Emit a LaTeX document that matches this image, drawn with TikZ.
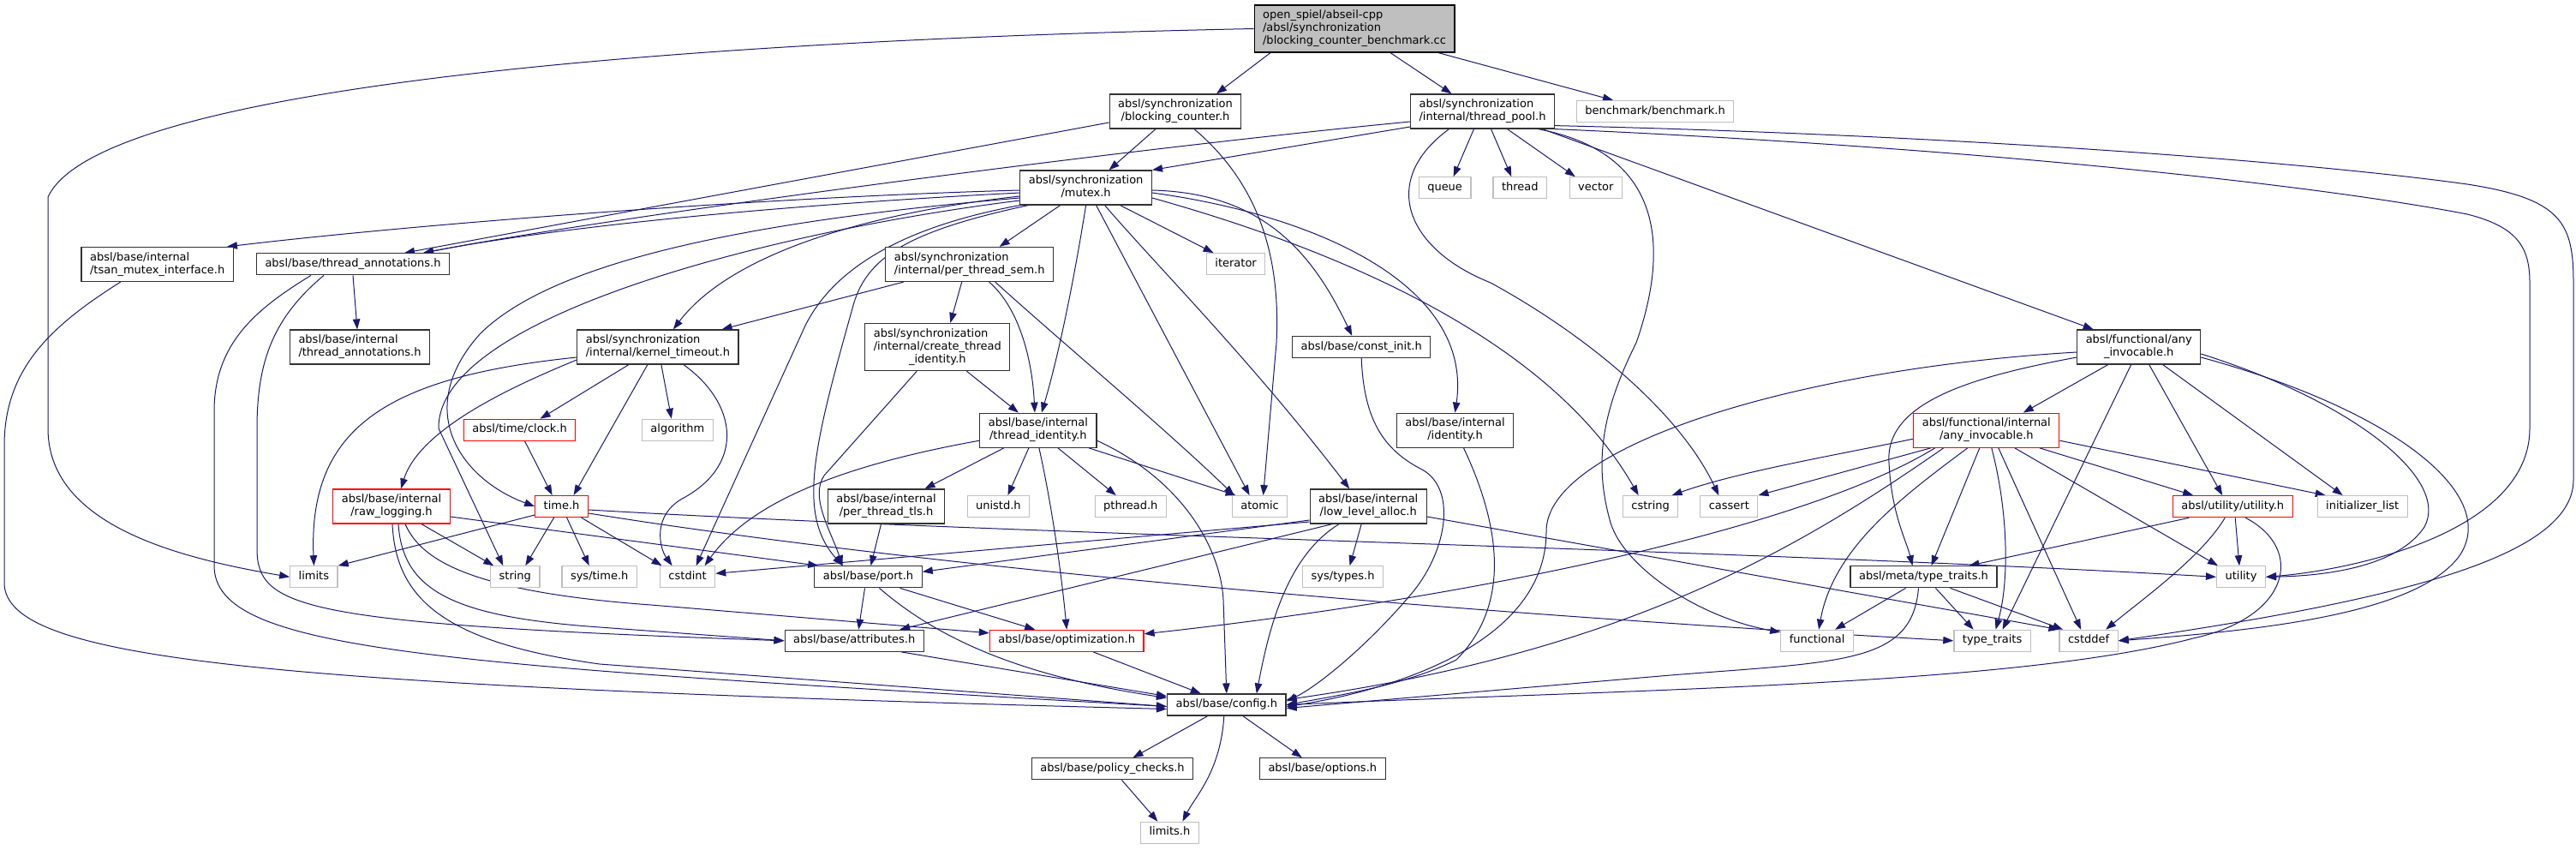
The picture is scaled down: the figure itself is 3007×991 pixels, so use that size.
\documentclass[tikz,border=0pt]{standalone}
\usepackage{fontspec}
\setmainfont{DejaVu Sans}
\usetikzlibrary{arrows.meta,backgrounds}
\definecolor{navy}{RGB}{25,25,112}
\definecolor{frame}{RGB}{50,50,50}
\definecolor{lite}{RGB}{191,191,191}
\definecolor{warn}{RGB}{255,0,0}
\tikzset{
  >={Triangle[length=12pt,width=8.5pt]},
  hdr/.style={draw=#1,fill=white,line width=1.2pt,inner xsep=10pt,inner ysep=5pt,
    font=\fontsize{13}{15}\selectfont,execute at begin node=\strut},
  hdr/.default=frame,
  syshdr/.style={hdr=lite},
  redhdr/.style={hdr=warn},
  roothdr/.style={hdr=black,fill=lite},
  inc/.style={->,draw=navy,line width=1pt},
}
% first lines flush left, last line centred
\newcommand{\brk}[2]{\begin{tabular}{@{}l@{}}#1\\\multicolumn{1}{@{}c@{}}{#2}\end{tabular}}

\begin{document}
\begin{tikzpicture}[x=1pt,y=-1pt]
  \useasboundingbox (0,0) rectangle (3007,991);
  % project headers
  \node[roothdr] (main) at (1581,33.5) {\brk{open\_spiel/abseil-cpp\\/absl/synchronization}{/blocking\_counter\_benchmark.cc}};
  \node[hdr] (bc) at (1372,130) {\brk{absl/synchronization}{/blocking\_counter.h}};
  \node[hdr] (tp) at (1730.5,130) {\brk{absl/synchronization}{/internal/thread\_pool.h}};
  \node[hdr] (mutex) at (1267.6,219) {\brk{absl/synchronization}{/mutex.h}};
  \node[hdr] (tsan) at (183.7,308.5) {\brk{absl/base/internal}{/tsan\_mutex\_interface.h}};
  \node[hdr] (ta) at (412,308.3) {absl/base/thread\_annotations.h};
  \node[hdr] (pts) at (1131.7,308.5) {\brk{absl/synchronization}{/internal/per\_thread\_sem.h}};
  \node[hdr] (ita) at (420,405) {\brk{absl/base/internal}{/thread\_annotations.h}};
  \node[hdr] (kt) at (767.9,405) {\brk{absl/synchronization}{/internal/kernel\_timeout.h}};
  \node[hdr] (cti) at (1094.3,405) {\brk{absl/synchronization\\/internal/create\_thread}{\_identity.h}};
  \node[hdr] (ci) at (1589.2,405) {absl/base/const\_init.h};
  \node[hdr] (fai) at (2496.7,405) {\brk{absl/functional/any}{\_invocable.h}};
  \node[redhdr] (clock) at (606.6,501.8) {absl/time/clock.h};
  \node[hdr] (tid) at (1211.9,502.2) {\brk{absl/base/internal}{/thread\_identity.h}};
  \node[hdr] (ident) at (1698.5,502.2) {\brk{absl/base/internal}{/identity.h}};
  \node[redhdr] (fiai) at (2318.8,502.2) {\brk{absl/functional/internal}{/any\_invocable.h}};
  \node[redhdr] (rawlog) at (457,591) {\brk{absl/base/internal}{/raw\_logging.h}};
  \node[redhdr] (timeh) at (655.6,591) {time.h};
  \node[hdr] (ptls) at (1034.5,591) {\brk{absl/base/internal}{/per\_thread\_tls.h}};
  \node[hdr] (lla) at (1597.2,591) {\brk{absl/base/internal}{/low\_level\_alloc.h}};
  \node[redhdr] (uu) at (2606.2,591.2) {absl/utility/utility.h};
  \node[hdr] (port) at (1013.5,673.3) {absl/base/port.h};
  \node[hdr] (mtt) at (2245.5,673.3) {absl/meta/type\_traits.h};
  \node[hdr] (attr) at (997.2,747.8) {absl/base/attributes.h};
  \node[redhdr] (opt) at (1245.2,747.8) {absl/base/optimization.h};
  \node[hdr] (config) at (1431.8,822.5) {absl/base/config.h};
  \node[hdr] (policy) at (1298.5,897.3) {absl/base/policy\_checks.h};
  \node[hdr] (options) at (1543.8,897.3) {absl/base/options.h};
  % system headers
  \foreach \n/\x/\y/\t in {bm/1932/130/{benchmark/benchmark.h},queue/1686.6/219.3/queue,
      thread/1774.3/219.3/thread,vector/1862.8/219.3/vector,iter/1442.6/308.2/iterator,
      algo/790.8/501.8/algorithm,unistd/1165.4/591.2/unistd.h,pthread/1319.8/591.2/pthread.h,
      atomic/1470.6/591.2/atomic,cstring/1926.6/591.2/cstring,cassert/2018.3/591.2/cassert,
      initl/2757.7/591.2/initializer\_list,limits/366.4/673.3/limits,string/601.3/673.3/string,
      systime/699.7/673.3/{sys/time.h},cstdint/802.6/673.3/cstdint,systypes/1567.6/673.3/{sys/types.h},
      utility/2616/673.3/utility,functional/2121.1/747.8/functional,typetraits/2325.6/747.8/type\_traits,
      cstddef/2438.1/747.8/cstddef,limitsh/1365.4/971.8/limits.h}
    \node[syshdr] (\n) at (\x,\y) {\t};

  \begin{scope}[on background layer]
    % benchmark file
    \draw[inc] (main.west) .. controls (900,45) and (120,90) .. (56,230) -- (56,500) .. controls (56,610) and (200,650) .. (limits.west);
    \draw[inc] ([xshift=-98pt]main.south) -- ([xshift=48pt]bc.north);
    \draw[inc] ([xshift=42pt]main.south) -- ([xshift=-36pt]tp.north);
    \draw[inc] ([xshift=98pt]main.south) -- ([xshift=-49pt]bm.north);
    % blocking_counter.h
    \draw[inc] ([xshift=-23pt]bc.south) -- ([xshift=27pt]mutex.north);
    \draw[inc] ([yshift=-13pt]bc.west) -- ([xshift=60pt]ta.north);
    \draw[inc] ([xshift=22pt]bc.south) .. controls (1470,215) and (1495,300) .. (1490,400) -- ([xshift=4pt]atomic.north);
    % thread_pool.h
    \draw[inc] ([yshift=-18pt]tp.west) -- (mutex.north east);
    \draw[inc] ([yshift=-12pt]tp.west) .. controls (1300,175) and (700,255) .. ([xshift=82pt]ta.north);
    \draw[inc] ([xshift=-10pt]tp.south) -- ([xshift=10pt]queue.north);
    \draw[inc] ([xshift=10pt]tp.south) -- ([xshift=-10pt]thread.north);
    \draw[inc] ([xshift=29pt]tp.south) -- ([xshift=-24pt]vector.north);
    \draw[inc] ([xshift=-39pt]tp.south) .. controls (1610,210) and (1640,290) .. (1740,330) .. controls (1850,390) and (1960,480) .. ([xshift=-12pt]cassert.north);
    \draw[inc] ([xshift=65pt]tp.south) .. controls (1950,180) and (1945,300) .. (1910,400) .. controls (1870,480) and (1860,540) .. (1880,610) .. controls (1895,660) and (1980,720) .. ([yshift=10pt]functional.west);
    \draw[inc] ([xshift=70pt]tp.south) -- ([xshift=-53pt]fai.north);
    \draw[inc] ([yshift=4pt]tp.south east) .. controls (2300,158) and (2700,190) .. (2880,215) .. controls (2990,232) and (3004,260) .. (3004,330) -- (3004,560) .. controls (3004,650) and (2800,700) .. (cstddef.east);
    \draw[inc] (tp.south east) .. controls (2300,172) and (2700,215) .. (2880,250) .. controls (2940,265) and (2953,290) .. (2953,330) -- (2953,500) .. controls (2953,620) and (2750,665) .. (utility.east);
    % mutex.h
    \draw[inc] ([yshift=-3pt]mutex.west) .. controls (900,230) and (500,260) .. ([xshift=-8pt]tsan.north east);
    \draw[inc] ([yshift=-6pt]mutex.west) .. controls (900,240) and (650,265) .. ([xshift=82pt]ta.north);
    \draw[inc] ([yshift=-10pt]mutex.west) .. controls (1000,250) and (850,300) .. ([xshift=18pt]kt.north);
    \draw[inc] ([yshift=-12pt]mutex.west) .. controls (850,260) and (640,310) .. (560,390) .. controls (480,480) and (540,560) .. (timeh.west);
    \draw[inc] ([yshift=-15pt]mutex.west) .. controls (900,270) and (510,370) .. (512,500) -- ([xshift=-14pt]string.north);
    \draw[inc] (mutex.south west) .. controls (1080,260) and (980,300) .. (940,380) -- ([xshift=10pt]cstdint.north);
    \draw[inc] ([xshift=10pt]mutex.south west) .. controls (1060,270) and (1010,300) .. (995,360) .. controls (950,520) and (930,600) .. ([xshift=-30pt]port.north);
    \draw[inc] ([xshift=-30pt]mutex.south) -- ([xshift=35pt]pts.north);
    \draw[inc] (mutex.south) .. controls (1258,300) and (1240,400) .. ([xshift=4pt]tid.north);
    \draw[inc] ([xshift=12pt]mutex.south) -- ([xshift=-12pt]atomic.north);
    \draw[inc] ([xshift=22pt]mutex.south) .. controls (1350,310) and (1460,420) .. ([xshift=-22pt]lla.north);
    \draw[inc] ([xshift=40pt]mutex.south) -- ([xshift=-26pt]iter.north);
    \draw[inc] ([yshift=-3pt]mutex.east) .. controls (1470,225) and (1530,290) .. ([xshift=-11pt]ci.north);
    \draw[inc] ([yshift=-6pt]mutex.east) .. controls (1530,250) and (1720,330) .. (ident.north);
    \draw[inc] ([yshift=-12pt]mutex.east) .. controls (1520,280) and (1800,380) .. ([xshift=-14pt]cstring.north);
    % per_thread_sem.h
    \draw[inc] ([xshift=-77pt]pts.south) -- ([xshift=-20pt]kt.north east);
    \draw[inc] ([xshift=-9pt]pts.south) -- ([xshift=15pt]cti.north);
    \draw[inc] ([xshift=23pt]pts.south) .. controls (1190,360) and (1205,420) .. ([xshift=-4pt]tid.north);
    \draw[inc] ([xshift=30pt]pts.south) .. controls (1240,400) and (1360,500) .. ([xshift=-30pt]atomic.north);
    % thread_annotations.h, tsan_mutex_interface.h
    \draw[inc] (ta.south) -- ([xshift=-3pt]ita.north);
    \draw[inc] ([xshift=-34pt]ta.south) .. controls (320,370) and (300,420) .. (300,500) -- (300,640) .. controls (300,710) and (350,728) .. (attr.west);
    \draw[inc] ([xshift=-49pt]ta.south) .. controls (300,360) and (250,400) .. (250,480) -- (250,660) .. controls (250,760) and (500,775) .. ([yshift=-2pt]config.west);
    \draw[inc] ([xshift=-43pt]tsan.south) .. controls (60,380) and (5,430) .. (5,520) -- (5,680) .. controls (5,770) and (300,800) .. ([yshift=-5pt]config.west);
    % kernel_timeout.h
    \draw[inc] ([yshift=-15pt]kt.west) .. controls (600,450) and (490,500) .. ([xshift=11pt]rawlog.north);
    \draw[inc] ([yshift=-12pt]kt.west) .. controls (450,440) and (360,500) .. (limits.north);
    \draw[inc] ([xshift=-34pt]kt.south) -- ([xshift=24pt]clock.north);
    \draw[inc] ([xshift=-12pt]kt.south) -- ([xshift=14pt]timeh.north);
    \draw[inc] ([xshift=4pt]kt.south) -- ([xshift=-7pt]algo.north);
    \draw[inc] ([xshift=30pt]kt.south) .. controls (860,470) and (870,540) .. (800,580) .. controls (760,600) and (770,640) .. ([xshift=-18pt]cstdint.north);
    % time
    \draw[inc] ([xshift=6pt]clock.south) -- ([xshift=-11pt]timeh.north);
    \draw[inc] ([yshift=-10pt]timeh.west) -- (limits.north east);
    \draw[inc] ([xshift=-9pt]timeh.south) -- ([xshift=12pt]string.north);
    \draw[inc] ([xshift=6pt]timeh.south) -- ([xshift=-12pt]systime.north);
    \draw[inc] ([xshift=23pt]timeh.south) -- ([xshift=-30pt]cstdint.north);
    \draw[inc] ([yshift=-4pt]timeh.east) .. controls (1200,625) and (2000,640) .. (utility.west);
    \draw[inc] ([yshift=-8pt]timeh.east) .. controls (1100,665) and (1700,715) .. (typetraits.west);
    % raw_logging.h
    \draw[inc] ([xshift=35pt]rawlog.south) -- ([xshift=-25pt]string.north);
    \draw[inc] ([yshift=-12pt]rawlog.east) -- ([xshift=5pt]port.north west);
    \draw[inc] ([xshift=1pt]rawlog.south) .. controls (462,700) and (520,750) .. (700,775) -- ([yshift=-2pt]config.west);
    \draw[inc] ([xshift=8pt]rawlog.south) .. controls (470,690) and (530,720) .. (700,732) -- (attr.west);
    \draw[inc] ([xshift=16pt]rawlog.south) .. controls (490,650) and (540,690) .. (760,706) -- ([yshift=9pt]opt.west);
    % thread_identity.h, create_thread_identity.h, per_thread_tls.h
    \draw[inc] ([xshift=-40pt]tid.south) -- ([xshift=45pt]ptls.north);
    \draw[inc] ([xshift=-11pt]tid.south) -- ([xshift=11pt]unistd.north);
    \draw[inc] ([xshift=23pt]tid.south) -- ([xshift=-17pt]pthread.north);
    \draw[inc] ([xshift=59pt]tid.south) -- ([xshift=-28pt]atomic.north);
    \draw[inc] ([yshift=-12pt]tid.west) .. controls (1000,540) and (880,580) .. ([xshift=20pt]cstdint.north);
    \draw[inc] ([xshift=1pt]tid.south) .. controls (1230,600) and (1240,680) .. (opt.north);
    \draw[inc] ([yshift=-12pt]tid.east) .. controls (1380,560) and (1425,640) .. (1428,700) -- (config.north);
    \draw[inc] ([xshift=34pt]cti.south) -- ([xshift=-23pt]tid.north);
    \draw[inc] ([xshift=-24pt]cti.south) -- (962,555) .. controls (945,580) and (970,620) .. ([xshift=-30pt]port.north);
    \draw[inc] ([xshift=-6pt]ptls.south) -- ([xshift=3pt]port.north);
    % low_level_alloc.h
    \draw[inc] ([yshift=-16pt]lla.west) -- ([yshift=6pt]port.east);
    \draw[inc] ([yshift=-18pt]lla.west) -- ([yshift=4pt]cstdint.east);
    \draw[inc] ([xshift=-8pt]lla.south) -- ([xshift=8pt]systypes.north);
    \draw[inc] ([xshift=-42pt]lla.south) -- ([xshift=53pt]attr.north);
    \draw[inc] ([xshift=-34pt]lla.south) .. controls (1500,650) and (1480,740) .. ([xshift=35pt]config.north);
    \draw[inc] ([yshift=-12pt]lla.east) -- (cstddef.north west);
    % const_init.h, identity.h
    \draw[inc] (ci.south) .. controls (1592,490) and (1615,525) .. (1660,548) .. controls (1700,570) and (1690,640) .. (1650,690) .. controls (1600,750) and (1540,800) .. ([yshift=4pt]config.east);
    \draw[inc] ([xshift=10pt]ident.south) .. controls (1745,600) and (1770,700) .. (1700,770) .. controls (1640,800) and (1560,812) .. (config.east);
    % functional/any_invocable.h
    \draw[inc] ([xshift=-36pt]fai.south) -- ([xshift=43pt]fiai.north);
    \draw[inc] ([xshift=12pt]fai.south) -- ([xshift=-12pt]uu.north);
    \draw[inc] ([xshift=28pt]fai.south) -- ([xshift=-23pt]initl.north);
    \draw[inc] ([xshift=-9pt]fai.south) -- ([xshift=12pt]typetraits.north);
    \draw[inc] ([yshift=-6pt]fai.west) .. controls (2100,430) and (1805,520) .. (1805,620) .. controls (1805,760) and (1600,810) .. ([yshift=-2pt]config.east);
    \draw[inc] ([yshift=-12pt]fai.west) .. controls (2300,440) and (2200,470) .. (2205,540) .. controls (2208,600) and (2225,630) .. ([xshift=-13pt]mtt.north);
    \draw[inc] ([yshift=-8pt]fai.east) .. controls (2750,470) and (2860,560) .. (2830,615) .. controls (2800,660) and (2720,672) .. (utility.east);
    \draw[inc] ([yshift=-12pt]fai.east) .. controls (2800,480) and (2920,580) .. (2870,650) .. controls (2820,715) and (2650,735) .. (cstddef.east);
    % functional/internal/any_invocable.h
    \draw[inc] ([yshift=-10pt]fiai.west) .. controls (2150,530) and (2030,550) .. ([xshift=25pt]cstring.north);
    \draw[inc] ([xshift=-65pt]fiai.south) -- (cassert.north east);
    \draw[inc] ([xshift=-60pt]fiai.south) .. controls (2100,620) and (1700,700) .. ([yshift=8pt]opt.east);
    \draw[inc] ([xshift=-50pt]fiai.south) .. controls (2100,640) and (1900,760) .. ([yshift=6pt]config.east);
    \draw[inc] ([xshift=-22pt]fiai.south) .. controls (2220,580) and (2140,640) .. ([xshift=2pt]functional.north);
    \draw[inc] ([xshift=-8pt]fiai.south) -- ([xshift=9pt]mtt.north);
    \draw[inc] ([xshift=6pt]fiai.south) .. controls (2345,600) and (2345,680) .. ([xshift=4pt]typetraits.north);
    \draw[inc] ([xshift=14pt]fiai.south) -- ([xshift=-9pt]cstddef.north);
    \draw[inc] ([xshift=33pt]fiai.south) -- ([xshift=-27pt]utility.north);
    \draw[inc] ([xshift=62pt]fiai.south) -- ([xshift=-46pt]uu.north);
    \draw[inc] ([yshift=-12pt]fiai.east) -- ([xshift=-43pt]initl.north);
    % utility/utility.h, meta/type_traits.h
    \draw[inc] ([xshift=-51pt]uu.south) -- ([xshift=53pt]mtt.north);
    \draw[inc] ([xshift=3pt]uu.south) -- ([xshift=-2pt]utility.north);
    \draw[inc] ([xshift=-9pt]uu.south) .. controls (2570,650) and (2500,700) .. ([xshift=20pt]cstddef.north);
    \draw[inc] ([xshift=15pt]uu.south) .. controls (2690,640) and (2675,720) .. (2560,745) .. controls (2350,800) and (1900,805) .. (config.east);
    \draw[inc] ([xshift=-21pt]mtt.south) -- ([xshift=21pt]functional.north);
    \draw[inc] ([xshift=14pt]mtt.south) -- ([xshift=-22pt]typetraits.north);
    \draw[inc] ([xshift=31pt]mtt.south) -- ([xshift=-30pt]cstddef.north);
    \draw[inc] ([xshift=-6pt]mtt.south) .. controls (2232,775) and (2150,772) .. (1950,788) -- ([yshift=-4pt]config.east);
    % port.h, attributes.h, optimization.h
    \draw[inc] ([xshift=-4pt]port.south) -- ([xshift=5pt]attr.north);
    \draw[inc] ([xshift=37pt]port.south) -- ([xshift=-37pt]opt.north);
    \draw[inc] ([xshift=13pt]port.south) .. controls (1100,750) and (1200,790) .. ([yshift=8pt]config.west);
    \draw[inc] ([xshift=55pt]attr.south) -- ([yshift=10pt]config.west);
    \draw[inc] ([xshift=31pt]opt.south) -- ([xshift=-30pt]config.north);
    % config.h
    \draw[inc] ([xshift=-22pt]config.south) -- ([xshift=24pt]policy.north);
    \draw[inc] ([xshift=-3pt]config.south) .. controls (1425,900) and (1395,930) .. ([xshift=15pt]limitsh.north);
    \draw[inc] ([xshift=19pt]config.south) -- ([xshift=-24pt]options.north);
    \draw[inc] ([xshift=11pt]policy.south) -- ([xshift=-14pt]limitsh.north);
  \end{scope}
\end{tikzpicture}
\end{document}
